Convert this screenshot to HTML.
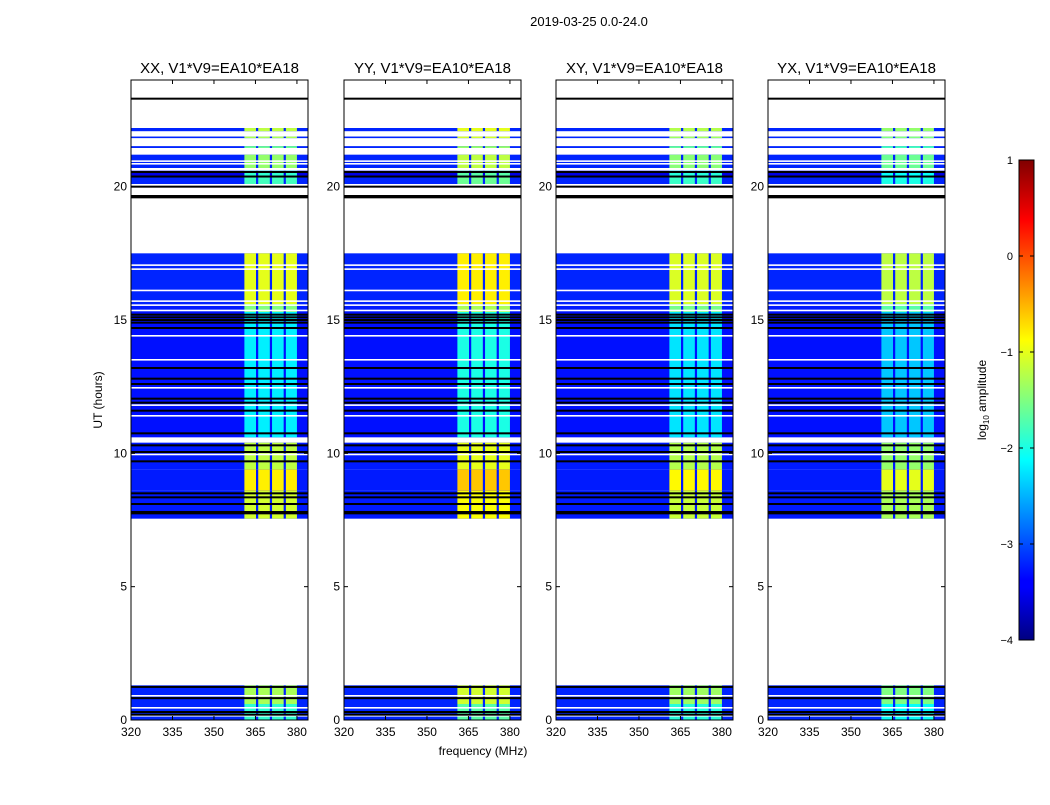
<!DOCTYPE html>
<html><head><meta charset="utf-8"><style>
body{margin:0;background:#fff;font-family:"Liberation Sans",sans-serif}
svg text{font-family:"Liberation Sans",sans-serif}
</style></head><body>
<svg id="fig" width="1050" height="800" xmlns="http://www.w3.org/2000/svg">
<text x="589" y="26" font-size="13" text-anchor="middle">2019-03-25 0.0-24.0</text>
<text x="483" y="755" font-size="12" text-anchor="middle">frequency (MHz)</text>
<text transform="translate(102,400) rotate(-90)" font-size="12" text-anchor="middle">UT (hours)</text>
<g id="panels"></g>
<defs><linearGradient id="jetg" x1="0" y1="1" x2="0" y2="0">
<stop offset="0" stop-color="#000080"/><stop offset="0.11" stop-color="#0000ff"/><stop offset="0.125" stop-color="#0000ff"/>
<stop offset="0.375" stop-color="#00ffff"/><stop offset="0.5" stop-color="#80ff80"/><stop offset="0.625" stop-color="#ffff00"/>
<stop offset="0.875" stop-color="#ff0000"/><stop offset="1" stop-color="#800000"/></linearGradient></defs>
<g>
<rect x="1019" y="160" width="15" height="480" fill="url(#jetg)" stroke="#000" stroke-width="1"/>
<g id="cbticks"></g>
<text transform="translate(986,400) rotate(-90)" font-size="12" text-anchor="middle">log<tspan font-size="8" dy="3">10</tspan><tspan dy="-3"> amplitude</tspan></text>
</g>
</svg>
<script>
const titles=["XX, V1*V9=EA10*EA18","YY, V1*V9=EA10*EA18","XY, V1*V9=EA10*EA18","YX, V1*V9=EA10*EA18"];
const panelRfiOffset=[0,0.2,-0.05,-0.2];
const xTicks=[320,335,350,365,380];
const yTicks=[0,5,10,15,20];
const cbTicks=[1,0,-1,-2,-3,-4];
// data segments: [t0, t1, background log amp, rfi-band log amp]
const segments=[[0.0,0.6,-3.2,-1.9],[0.6,1.3,-3.2,-1.3],[7.55,8.6,-3.25,-1.1],[8.6,9.4,-3.25,-0.8],[9.4,10.4,-3.25,-1.2],[10.6,15.3,-3.3,-2.2],[15.3,15.6,-3.25,-1.5],[15.6,17.5,-3.2,-1.0],[20.1,20.35,-3.2,-1.8],[20.35,20.6,-3.5,-1.9],[20.7,21.2,-3.2,-1.4],[21.45,21.52,-3.2,-1.6],[21.82,21.88,-3.2,-1.3],[22.08,22.2,-3.2,-1.2]];
// bright RFI channels [f0,f1]
const rfiChannels=[[361,365.2],[366,370.2],[371,375.2],[376,380]];
const blackLines=[0.2,0.3,0.82,1.24,7.75,7.8,8.1,8.35,8.5,9.7,10.05,10.3,10.75,11.6,11.9,12.05,12.6,12.8,13.2,14.7,14.9,15.0,15.1,15.2,19.6,19.65,20.0,20.38,20.55,23.3];
const whiteLines=[0.15,0.45,0.9,9.95,11.4,11.8,12.45,13.5,14.4,15.35,15.55,15.7,16.1,16.9,17.05,20.85,20.95];
const panelX=[131,344,556,768];
const PW=177,PT=80,PB=720;
const NS="http://www.w3.org/2000/svg";
function jet(v){let f=(v+4)/5;f=Math.max(0,Math.min(1,f));
 const r=Math.max(0,Math.min(1,1.5-Math.abs(4*f-3))),g=Math.max(0,Math.min(1,1.5-Math.abs(4*f-2))),b=Math.max(0,Math.min(1,1.5-Math.abs(4*f-1)));
 return `rgb(${Math.round(r*255)},${Math.round(g*255)},${Math.round(b*255)})`;}
function mk(tag,attrs,parent){const e=document.createElementNS(NS,tag);for(const k in attrs)e.setAttribute(k,attrs[k]);parent.appendChild(e);return e;}
const root=document.getElementById('panels');
panelX.forEach((x0,p)=>{
 const xs=f=>x0+(f-320)*PW/64, ys=t=>PB-(t/24)*(PB-PT);
 const g=mk('g',{},root);
 
 
 segments.forEach(s=>{
  const r=mk('rect',{x:x0,y:ys(s[1]),width:PW,height:ys(s[0])-ys(s[1]),fill:jet(s[2])},g);
  
  
  rfiChannels.forEach(c=>{
   const q=mk('rect',{x:xs(c[0]),y:ys(s[1]),width:xs(c[1])-xs(c[0]),height:ys(s[0])-ys(s[1]),fill:jet(s[3]+panelRfiOffset[p])},g);
   
   
  });
 });
 whiteLines.forEach(t=>{const l=mk('rect',{x:x0,y:ys(t)-1,width:PW,height:1.6,fill:'#fff'},g);
  });
 blackLines.forEach(t=>{const l=mk('rect',{x:x0,y:ys(t)-1,width:PW,height:2,fill:'#000'},g);
  });
 const fr=mk('rect',{x:x0,y:PT,width:PW,height:PB-PT,fill:'none',stroke:'#000','stroke-width':1},g);
 
 const tt=mk('text',{x:x0+PW/2,y:PT-7,'font-size':15,'text-anchor':'middle'},g);tt.textContent=titles[p];
 
 xTicks.forEach(v=>{const X=xs(v);mk('line',{x1:X,x2:X,y1:PB,y2:PB-4,stroke:'#000'},g);mk('line',{x1:X,x2:X,y1:PT,y2:PT+4,stroke:'#000'},g);
  const t=mk('text',{x:X,y:PB+16,'font-size':12,'text-anchor':'middle'},g);t.textContent=v;
  });
 yTicks.forEach(v=>{const Y=ys(v);mk('line',{x1:x0,x2:x0+4,y1:Y,y2:Y,stroke:'#000'},g);mk('line',{x1:x0+PW,x2:x0+PW-4,y1:Y,y2:Y,stroke:'#000'},g);
  const t=mk('text',{x:x0-4,y:Y+4,'font-size':12,'text-anchor':'end'},g);t.textContent=v;
  });
});
const cb=document.getElementById('cbticks');
cbTicks.forEach(v=>{const Y=640-(v+4)/5*480;mk('line',{x1:1019,x2:1023,y1:Y,y2:Y,stroke:'#000'},cb);mk('line',{x1:1034,x2:1030,y1:Y,y2:Y,stroke:'#000'},cb);
 const t=mk('text',{x:1013,y:Y+4,'font-size':11,'text-anchor':'end'},cb);t.textContent=v<0?'\u2212'+(-v):v;
 });
</script>
</body></html>
